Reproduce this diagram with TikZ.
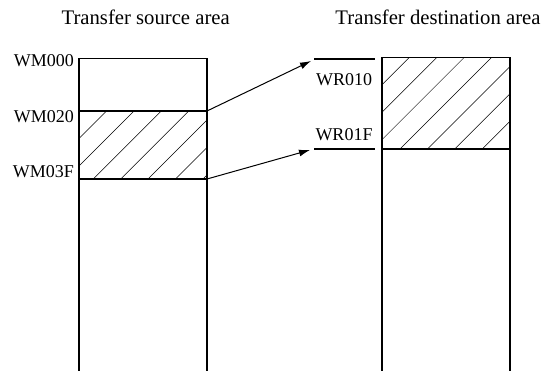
\documentclass[tikz,border=0pt]{standalone}
\usepackage{fontspec}
\setmainfont{Liberation Serif}
\usetikzlibrary{arrows.meta}
\begin{document}
\begin{tikzpicture}[x=1pt,y=-1pt,
  lbl/.style={font=\fontsize{18}{21}\selectfont, inner sep=0pt},
  ttl/.style={font=\fontsize{20.7}{24}\selectfont, inner sep=0pt, anchor=base},
  boxline/.style={line width=1.1pt},
  sep/.style={line width=2pt},
  hatch/.style={line width=0.5pt},
  arr/.style={line width=1pt, -{Latex[length=11pt,width=7pt]}}]
\useasboundingbox (0,0) rectangle (548,371);
% titles
\node[ttl] (t1) at (145.7,25) {Transfer source area};
\node[ttl] (t2) at (438,25) {Transfer destination area};
% source hatch
\begin{scope}
\clip (79,111) rectangle (207,179);
\foreach \k in {-3,...,5} \draw[hatch] (93.3+\k*27.4,179) -- ++(68,-68);
\end{scope}
% destination hatch
\begin{scope}
\clip (382,57.5) rectangle (510,149);
\foreach \k in {-4,...,5} \draw[hatch] (400+\k*27.4,149) -- ++(92,-92);
\end{scope}
% source box
\draw[boxline] (79,371) -- (79,58.5) -- (207,58.5) -- (207,371);
\draw[sep] (79,111) coordinate (s1l) -- (207,111) coordinate (s1);
\draw[sep] (79,179) coordinate (s2l) -- (207,179) coordinate (s2);
% destination box
\draw[boxline] (382,371) -- (382,57.5) -- (510,57.5) -- (510,371);
\draw[sep] (382,149) coordinate (d2l) -- (510,149) coordinate (d2r);
% marker lines
\draw[sep] (314,59) coordinate (m1) -- (375,59) coordinate (m1r);
\draw[sep] (314,149) coordinate (m2) -- (375,149) coordinate (m2r);
% labels
\node[lbl, anchor=base east] (wm000) at (74,67) {WM000};
\node[lbl, anchor=base east] (wm020) at (74,123) {WM020};
\node[lbl, anchor=base east] (wm03f) at (74,178) {WM03F};
\node[lbl, anchor=base] (wr010) at (344,86) {WR010};
\node[lbl, anchor=base] (wr01f) at (344,140.5) {WR01F};
% arrows
\coordinate (a1) at (311,61);
\coordinate (a2) at (310,150);
\draw[arr] (s1) -- (a1);
\draw[arr] (s2) -- (a2);
\end{tikzpicture}
\end{document}
